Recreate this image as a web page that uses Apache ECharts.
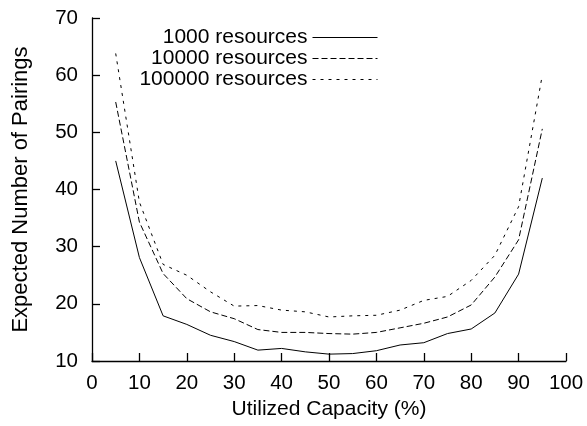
<!DOCTYPE html>
<html>
<head>
<meta charset="utf-8">
<script src="https://cdn.jsdelivr.net/npm/echarts@6/dist/echarts.min.js"></script>
<style>html,body{margin:0;padding:0;background:#fff}#c{width:587px;height:426px}</style>
</head>
<body>
<div id="c"></div>
<script>
var capacity = [5,10,15,20,25,30,35,40,45,50,55,60,65,70,75,80,85,90,95];
var res1000 = [45, 28.1, 17.9, 16.4, 14.5, 13.4, 11.9, 12.2, 11.6, 11.2, 11.3, 11.8, 12.8, 13.2, 14.8, 15.6, 18.4, 25.2, 42];
var res10000 = [55.3, 34.3, 25.3, 20.9, 18.6, 17.4, 15.5, 15.0, 15.0, 14.8, 14.7, 15.0, 15.8, 16.6, 17.7, 19.8, 24.7, 31.2, 50.6];
var res100000 = [63.8, 37.8, 26.9, 25.0, 22.1, 19.6, 19.7, 18.9, 18.6, 17.7, 17.9, 18.0, 18.9, 20.6, 21.3, 24.1, 28.5, 37, 60];
var seriesNames = ['1000 resources', '10000 resources', '100000 resources'];
var xName = 'Utilized Capacity (%)';
var yName = 'Expected Number of Pairings';

function pairs(v){ return capacity.map(function(x,i){ return [x, v[i]]; }); }
var font = 'Liberation Sans, Arial, sans-serif';
var dashes = ['solid', [6,3], [3,5]];
var vals = [res1000, res10000, res100000];
var legendTops = [27, 48, 69];

var chart = echarts.init(document.getElementById('c'));
chart.setOption({
  animation: false,
  backgroundColor: '#fff',
  textStyle: {fontFamily: font},
  grid: {left: 92, right: 21, top: 18, bottom: 65},
  legend: seriesNames.map(function(n, i){
    return {
      data: [n], right: 209, top: legendTops[i], padding: 0, align: 'right',
      itemWidth: 65, itemHeight: 14, selectedMode: false,
      itemStyle: {opacity: 0},
      lineStyle: {color: '#000', width: 1, type: dashes[i]},
      textStyle: {fontSize: 21, color: '#000', fontFamily: font}
    };
  }),
  xAxis: {
    type: 'value', min: 0, max: 100, interval: 10,
    name: xName, nameLocation: 'middle', nameGap: 38,
    nameTextStyle: {fontSize: 21, color: '#000', fontFamily: font},
    axisLine: {lineStyle: {color: '#000', width: 1.3}},
    axisTick: {inside: true, length: 8, lineStyle: {color: '#000', width: 1.3}},
    axisLabel: {fontSize: 20.5, color: '#000', margin: 12, fontFamily: font},
    splitLine: {show: false}
  },
  yAxis: {
    type: 'value', min: 10, max: 70, interval: 10,
    name: yName, nameLocation: 'middle', nameGap: 60, nameRotate: 90,
    nameTextStyle: {fontSize: 22, color: '#000', fontFamily: font},
    axisLine: {show: true, lineStyle: {color: '#000', width: 1.3}},
    axisTick: {show: true, inside: true, length: 8, lineStyle: {color: '#000', width: 1.3}},
    axisLabel: {fontSize: 20.5, color: '#000', margin: 14, fontFamily: font},
    splitLine: {show: false}
  },
  series: seriesNames.map(function(n, i){
    return {
      name: n, type: 'line', data: pairs(vals[i]),
      symbol: 'none', showSymbol: false,
      lineStyle: {color: '#000', width: 1, type: dashes[i]},
      itemStyle: {color: '#000'}
    };
  })
});
</script>
</body>
</html>
